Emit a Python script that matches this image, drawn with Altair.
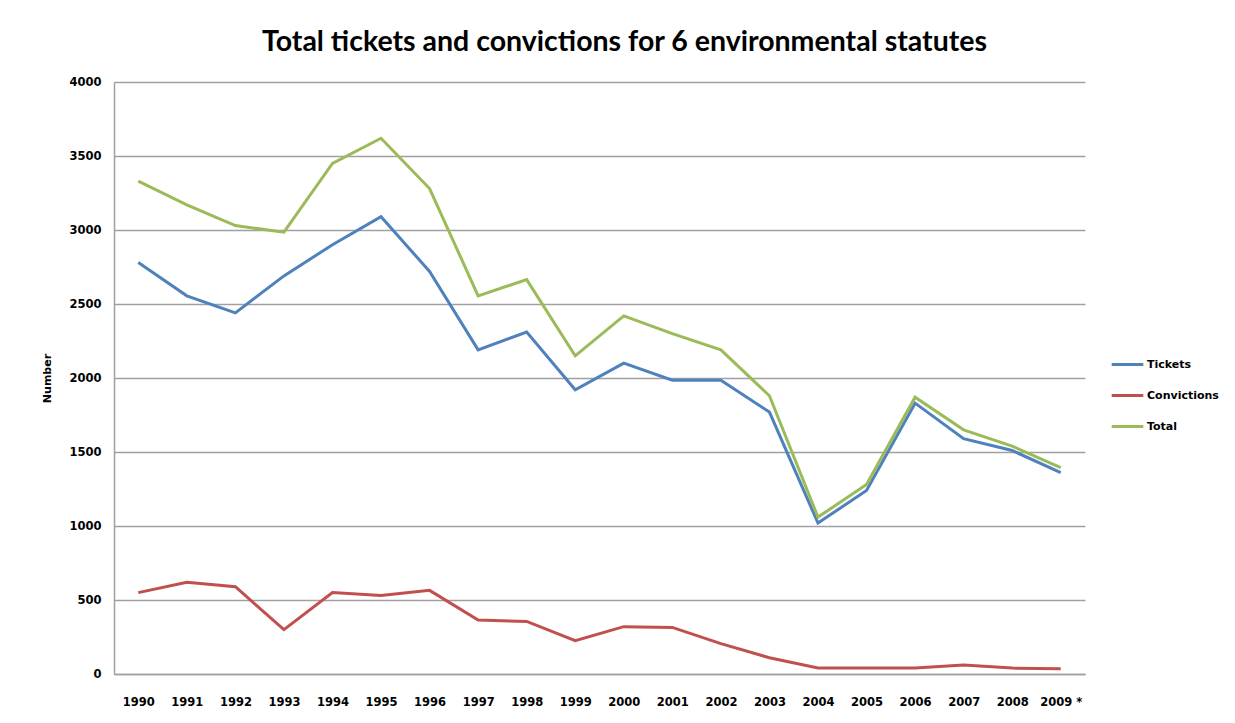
import altair as alt
import pandas as pd

years = [str(y) for y in range(1990, 2010)]
year_labels = years[:-1] + ["2009 *"]
tickets = [2780, 2555, 2440, 2690, 2900, 3090, 2720, 2190, 2310, 1920,
           2100, 1985, 1985, 1770, 1020, 1240, 1830, 1590, 1510, 1360]
convictions = [550, 620, 590, 300, 550, 530, 565, 365, 355, 225,
               320, 315, 205, 110, 40, 40, 40, 60, 40, 35]
total = [3330, 3170, 3030, 2985, 3450, 3620, 3280, 2555, 2665, 2150,
         2420, 2300, 2190, 1880, 1060, 1280, 1870, 1650, 1540, 1395]
series = ["Tickets", "Convictions", "Total"]
colors = ["#4F81BD", "#C0504D", "#9BBB59"]

rows = []
for name, vals in zip(series, [tickets, convictions, total]):
    for yl, v in zip(year_labels, vals):
        rows.append({"Year": yl, "Series": name, "Number": v})
df = pd.DataFrame(rows)

chart = alt.Chart(df).mark_line(strokeWidth=3).encode(
    x=alt.X("Year:N", sort=year_labels,
            scale=alt.Scale(type="point", padding=0.5),
            axis=alt.Axis(title=None, labelAngle=0, labelFont="DejaVu Sans",
                          labelFontWeight="bold", labelFontSize=11.5,
                          labelColor="#000000", labelPadding=22, ticks=False,
                          domainColor="#a0a0a0", domainWidth=1.5, grid=False)),
    y=alt.Y("Number:Q", scale=alt.Scale(domain=[0, 4000]),
            axis=alt.Axis(title="Number", values=list(range(0, 4001, 500)), format="d",
                          labelFont="DejaVu Sans", labelFontWeight="bold",
                          labelFontSize=11.5, labelColor="#000000", labelPadding=13,
                          ticks=False, domainColor="#a0a0a0", domainWidth=1.5,
                          gridColor="#a0a0a0", gridWidth=1.3,
                          titleFont="DejaVu Sans", titleFontWeight="bold",
                          titleFontSize=11, titleColor="#000000", titlePadding=16)),
    color=alt.Color("Series:N", sort=series,
                    scale=alt.Scale(domain=series, range=colors),
                    legend=alt.Legend(title=None, orient="none", legendX=996, legendY=265,
                                      symbolType="stroke", symbolSize=1000,
                                      symbolStrokeWidth=3, labelFont="DejaVu Sans",
                                      labelFontWeight="bold", labelFontSize=11,
                                      labelColor="#000000", labelOffset=2,
                                      rowPadding=7)),
).properties(
    width=971, height=592,
    title=alt.TitleParams("Total tickets and convictions for 6 environmental statutes",
                          font="Lato", fontSize=28.5, fontWeight="bold",
                          color="#000000", anchor="middle", dx=25, offset=20),
    autosize=alt.AutoSizeParams(type="none"),
    padding={"left": 106, "top": 74, "right": 142, "bottom": 40},
).configure_view(stroke=None)

chart.save("out.html", embed_options={"renderer": "svg", "actions": False})
